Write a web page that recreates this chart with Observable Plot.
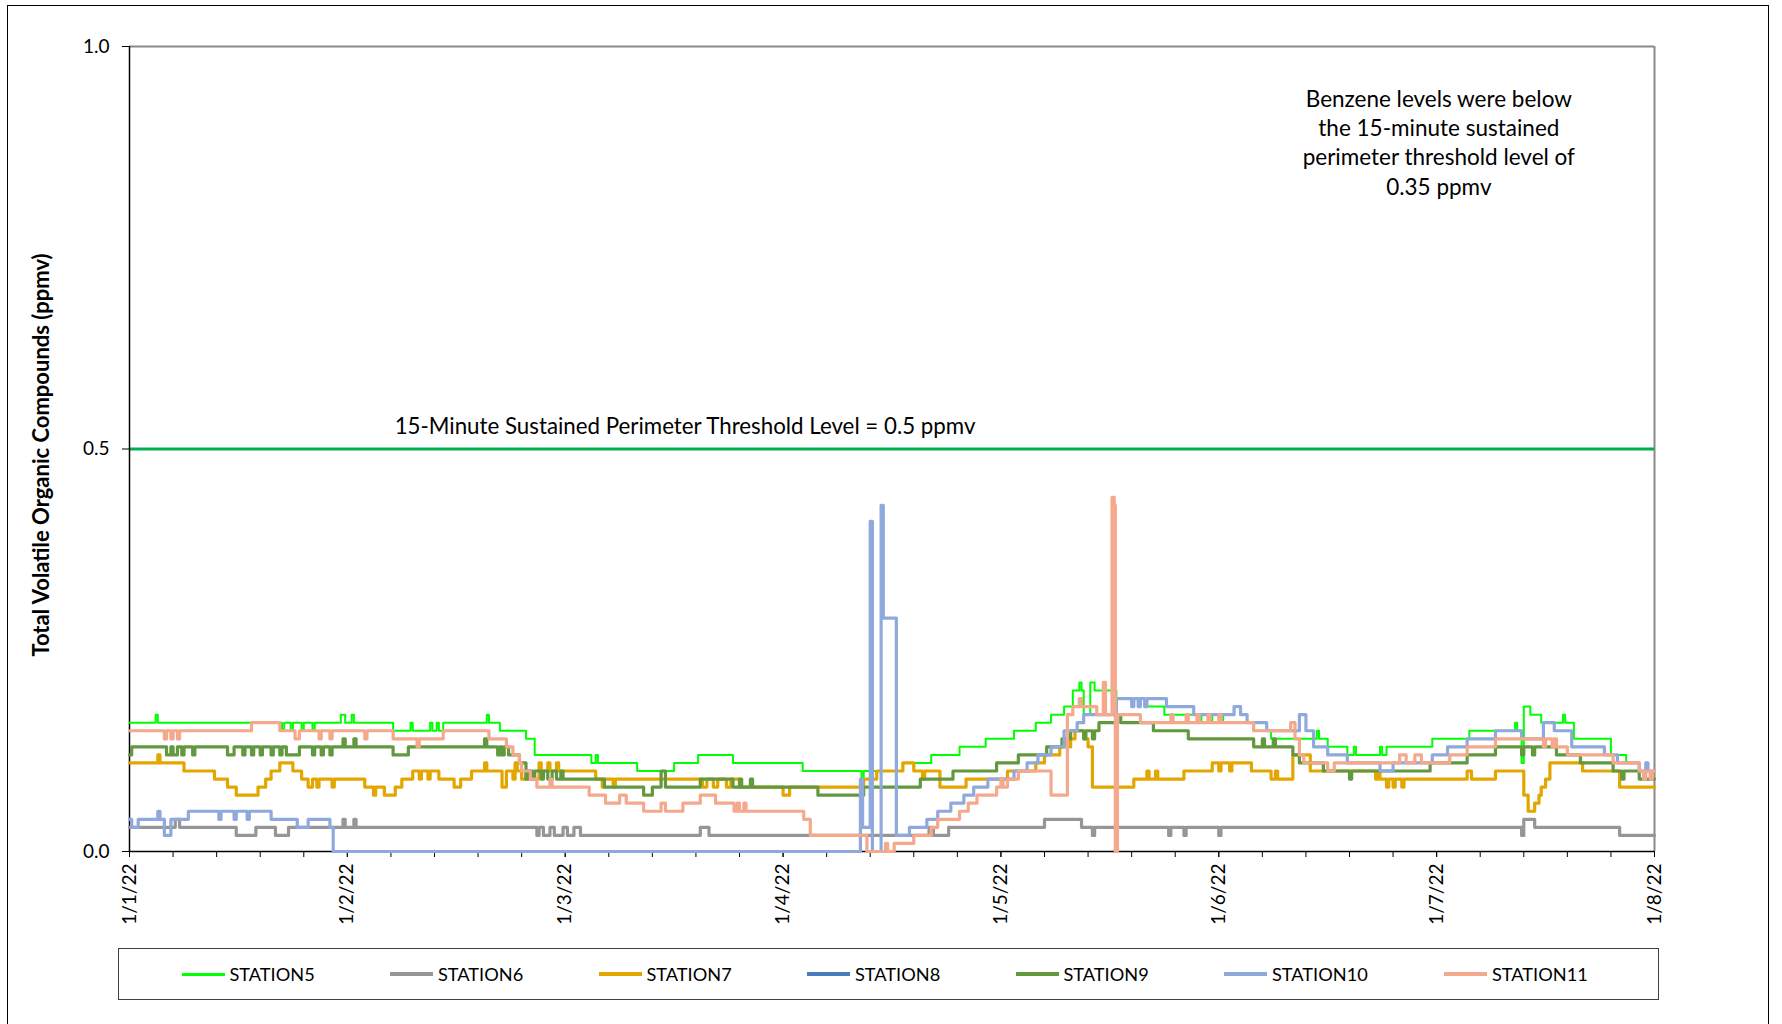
<!DOCTYPE html>
<html>
<head>
<meta charset="utf-8">
<script src="https://cdn.jsdelivr.net/npm/d3@7"></script>
<script src="https://cdn.jsdelivr.net/npm/@observablehq/plot@0.6"></script>
<style>
  html, body { margin: 0; padding: 0; background: #fff; overflow: hidden; }
  body { width: 1782px; height: 1024px; position: relative; font-family: Lato, "Open Sans", sans-serif; }
  #chart { position: absolute; left: 0; top: 0; }
  #frame { position: absolute; left: 7px; top: 5px; width: 1762px; height: 1100px; border: 1.5px solid #000; box-sizing: border-box; pointer-events: none; }
  #legend { position: absolute; left: 118px; top: 948px; width: 1541px; height: 52px; border: 1.5px solid #404040; box-sizing: border-box;
            display: flex; align-items: center; justify-content: flex-start; padding-left: 62.5px; font-size: 18.2px; color: #000; background: #fff; }
  .item { display: flex; align-items: center; white-space: nowrap; width: 208.5px; flex: none; }
  .item.wide { width: 220px; }
  .swatch { display: inline-block; width: 43px; margin-right: 5px; }
</style>
</head>
<body>
<div id="chart"></div>
<div id="legend"></div>
<div id="frame"></div>
<script>
// ---- data (day offset from 1/1/22, ppmv) ----
const stations = ["STATION5", "STATION6", "STATION7", "STATION8", "STATION9", "STATION10", "STATION11"];
const colors = ["#00FF00", "#969696", "#E3A600", "#4A7EBB", "#62993E", "#8FA9DC", "#F4A88C"];
const dayTicks = [0, 1, 2, 3, 4, 5, 6, 7];
const yTicks = [0, 0.5, 1.0];
const threshold = [0.5];
const thresholdLabel = ["15-Minute Sustained Perimeter Threshold Level = 0.5 ppmv"];
const note = ["Benzene levels were below\nthe 15-minute sustained\nperimeter threshold level of\n0.35 ppmv"];
const yTitle = ["Total Volatile Organic Compounds (ppmv)"];

const station5 = [
[0,0.16],[0.12,0.17],[0.13,0.16],
[0.70,0.15],[0.71,0.16],[0.74,0.15],[0.75,0.16],[0.79,0.15],[0.80,0.16],[0.84,0.15],[0.85,0.16],
[0.97,0.17],[0.99,0.16],[1.02,0.17],[1.03,0.16],
[1.21,0.15],[1.29,0.16],[1.30,0.15],[1.38,0.16],[1.39,0.15],[1.41,0.16],[1.42,0.15],[1.44,0.16],
[1.64,0.17],[1.65,0.16],[1.70,0.15],[1.82,0.14],[1.86,0.12],
[2.12,0.11],[2.14,0.12],[2.15,0.11],[2.33,0.10],[2.50,0.11],[2.61,0.12],[2.77,0.11],[3.09,0.10],
[3.36,0.09],[3.37,0.10],[3.55,0.11],[3.68,0.12],[3.81,0.13],[3.93,0.14],[4.06,0.15],[4.16,0.16],
[4.23,0.17],[4.29,0.18],[4.33,0.20],[4.36,0.21],[4.37,0.20],[4.38,0.17],[4.41,0.21],[4.43,0.20],
[4.53,0.19],[4.66,0.18],[4.75,0.17],[4.90,0.16],[4.92,0.17],[4.95,0.16],[4.97,0.17],[5.02,0.16],
[5.16,0.15],[5.24,0.14],[5.45,0.15],[5.46,0.14],[5.50,0.13],[5.59,0.12],[5.62,0.13],[5.63,0.12],
[5.74,0.13],[5.75,0.12],[5.77,0.13],[5.98,0.14],[6.15,0.15],[6.36,0.16],[6.37,0.15],[6.39,0.11],
[6.40,0.18],[6.43,0.17],[6.48,0.16],[6.58,0.17],[6.59,0.16],[6.63,0.14],[6.80,0.12],[6.87,0.11],
[6.93,0.10],[7,0.10]
];
const station6 = [
[0,0.03],[0.21,0.04],[0.23,0.03],[0.49,0.02],[0.58,0.03],[0.67,0.02],[0.73,0.03],[0.98,0.04],[0.99,0.03],
[1.03,0.04],[1.04,0.03],[1.87,0.02],[1.88,0.03],[1.90,0.02],[1.93,0.03],[1.95,0.02],[1.99,0.03],[2.01,0.02],
[2.04,0.03],[2.07,0.02],[2.62,0.03],[2.66,0.02],[3.67,0.03],[3.69,0.02],[3.76,0.03],[4.20,0.04],[4.37,0.03],
[4.42,0.02],[4.43,0.03],[4.77,0.02],[4.78,0.03],[4.84,0.02],[4.85,0.03],[5.00,0.02],[5.01,0.03],[6.39,0.02],
[6.40,0.04],[6.45,0.03],[6.84,0.02],[7,0.02]
];
const station7 = [
[0,0.11],[0.13,0.12],[0.14,0.11],[0.25,0.10],[0.39,0.09],[0.45,0.08],[0.49,0.07],[0.59,0.08],[0.625,0.09],
[0.65,0.10],[0.69,0.11],[0.75,0.10],[0.79,0.09],[0.82,0.08],[0.84,0.09],[0.86,0.08],[0.87,0.09],[0.93,0.08],
[0.94,0.09],[1.08,0.08],[1.12,0.07],[1.13,0.08],[1.17,0.07],[1.22,0.08],[1.25,0.09],[1.30,0.10],[1.33,0.09],
[1.34,0.10],[1.37,0.09],[1.38,0.10],[1.42,0.09],[1.49,0.08],[1.52,0.09],[1.57,0.10],[1.63,0.11],[1.64,0.10],
[1.71,0.08],[1.73,0.10],[1.76,0.09],[1.77,0.11],[1.78,0.10],[1.80,0.09],[1.82,0.10],[1.84,0.09],[1.88,0.11],
[1.89,0.10],[1.92,0.11],[1.93,0.10],[1.96,0.11],[1.97,0.10],[2.14,0.09],[2.17,0.08],[2.18,0.09],[2.22,0.08],
[2.23,0.09],[2.63,0.08],[2.65,0.09],[2.68,0.08],[2.70,0.09],[2.74,0.08],[2.76,0.09],[2.80,0.08],[3.00,0.07],
[3.03,0.08],[3.37,0.09],[3.43,0.10],[3.55,0.11],[3.60,0.10],[3.64,0.09],[3.65,0.10],[3.72,0.08],[3.84,0.09],
[4.03,0.10],[4.16,0.11],[4.20,0.12],[4.27,0.13],[4.29,0.14],[4.30,0.13],[4.32,0.14],[4.34,0.15],[4.38,0.14],
[4.40,0.13],[4.42,0.08],[4.61,0.09],[4.67,0.10],[4.68,0.09],[4.71,0.10],[4.72,0.09],[4.84,0.10],[4.97,0.11],
[5.00,0.10],[5.01,0.11],[5.05,0.10],[5.06,0.11],[5.15,0.10],[5.24,0.09],[5.26,0.10],[5.27,0.09],[5.34,0.12],
[5.42,0.10],[5.72,0.09],[5.73,0.10],[5.74,0.09],[5.77,0.08],[5.78,0.09],[5.80,0.08],[5.81,0.09],[5.84,0.08],
[5.85,0.09],[6.14,0.10],[6.16,0.09],[6.27,0.10],[6.40,0.07],[6.42,0.05],[6.45,0.06],[6.47,0.07],[6.48,0.08],
[6.50,0.09],[6.52,0.11],[6.67,0.10],[6.84,0.08],[7,0.08]
];
const station8 = [];
const station9 = [
[0,0.12],[0.01,0.13],[0.17,0.12],[0.19,0.13],[0.20,0.12],[0.22,0.13],[0.24,0.12],[0.25,0.13],[0.29,0.12],
[0.30,0.13],[0.45,0.12],[0.48,0.13],[0.52,0.12],[0.53,0.13],[0.56,0.12],[0.57,0.13],[0.60,0.12],[0.61,0.13],
[0.65,0.12],[0.66,0.13],[0.69,0.12],[0.70,0.13],[0.72,0.12],[0.78,0.13],[0.84,0.12],[0.85,0.13],[0.88,0.12],
[0.89,0.13],[0.92,0.12],[0.93,0.13],[0.98,0.14],[0.99,0.13],[1.03,0.14],[1.04,0.13],[1.21,0.12],[1.28,0.13],
[1.63,0.14],[1.64,0.13],[1.69,0.12],[1.70,0.13],[1.71,0.12],[1.72,0.13],[1.74,0.12],[1.79,0.11],[1.82,0.09],
[1.83,0.10],[1.85,0.09],[1.86,0.10],[1.89,0.09],[1.90,0.10],[1.92,0.09],[1.94,0.10],[1.96,0.09],[1.98,0.10],
[1.99,0.09],[2.18,0.08],[2.36,0.07],[2.40,0.08],[2.44,0.10],[2.46,0.08],[2.62,0.09],[2.77,0.08],[2.80,0.09],
[2.81,0.08],[2.85,0.09],[2.86,0.08],[3.16,0.07],[3.37,0.08],[3.63,0.09],[3.78,0.10],[3.98,0.11],[4.08,0.12],
[4.21,0.13],[4.28,0.14],[4.32,0.15],[4.38,0.14],[4.39,0.15],[4.42,0.14],[4.43,0.15],[4.45,0.16],[4.53,0.17],
[4.55,0.16],[4.70,0.15],[4.86,0.14],[5.16,0.13],[5.20,0.14],[5.21,0.13],[5.25,0.14],[5.26,0.13],[5.34,0.12],
[5.37,0.11],[5.48,0.10],[5.60,0.09],[5.61,0.10],[5.97,0.11],[6.14,0.12],[6.27,0.13],[6.39,0.12],[6.40,0.13],
[6.44,0.12],[6.45,0.13],[6.55,0.12],[6.66,0.11],[6.81,0.10],[6.85,0.09],[6.86,0.10],[6.93,0.09],[7,0.09]
];
const station10 = [
[0,0.04],[0.01,0.03],[0.04,0.04],[0.13,0.05],[0.14,0.04],[0.16,0.02],[0.19,0.04],[0.27,0.05],[0.41,0.04],
[0.42,0.05],[0.48,0.04],[0.49,0.05],[0.54,0.04],[0.55,0.05],[0.65,0.04],[0.77,0.03],[0.82,0.04],[0.92,0.03],
[0.935,0],[3.355,0.09],[3.365,0.03],[3.40,0.41],[3.41,0],[3.45,0.43],[3.46,0.29],[3.52,0.02],[3.58,0.03],
[3.66,0.04],[3.71,0.05],[3.77,0.06],[3.83,0.07],[3.875,0.08],[3.94,0.09],[4.06,0.10],[4.12,0.11],[4.17,0.12],
[4.23,0.13],[4.29,0.15],[4.35,0.16],[4.38,0.17],[4.53,0.19],[4.60,0.18],[4.61,0.19],[4.63,0.18],[4.64,0.19],
[4.66,0.18],[4.67,0.19],[4.76,0.18],[4.885,0.17],[5.07,0.18],[5.10,0.17],[5.13,0.16],[5.22,0.15],[5.37,0.17],
[5.40,0.15],[5.435,0.13],[5.50,0.12],[5.59,0.11],[5.74,0.10],[5.80,0.11],[5.98,0.12],[6.05,0.13],[6.14,0.14],
[6.27,0.15],[6.39,0.14],[6.49,0.16],[6.54,0.15],[6.62,0.13],[6.77,0.12],[6.83,0.11],[6.93,0.10],[6.96,0.11],
[6.97,0.10],[7,0.10]
];
const station11 = [
[0,0.15],[0.16,0.14],[0.17,0.15],[0.19,0.14],[0.20,0.15],[0.22,0.14],[0.23,0.15],[0.56,0.16],[0.69,0.15],
[0.76,0.14],[0.78,0.15],[0.87,0.14],[0.88,0.15],[0.92,0.14],[0.93,0.15],[1.08,0.14],[1.09,0.15],[1.21,0.14],
[1.32,0.13],[1.33,0.14],[1.44,0.15],[1.65,0.14],[1.73,0.13],[1.76,0.12],[1.79,0.11],[1.80,0.10],[1.84,0.09],
[1.87,0.08],[1.93,0.09],[1.94,0.08],[2.11,0.07],[2.185,0.06],[2.25,0.07],[2.28,0.06],[2.36,0.05],[2.44,0.06],
[2.46,0.05],[2.54,0.06],[2.62,0.07],[2.69,0.06],[2.775,0.05],[2.79,0.06],[2.80,0.05],[2.82,0.06],[2.83,0.05],
[3.095,0.04],[3.125,0.02],[3.385,0],[3.47,0.01],[3.48,0],[3.51,0.01],[3.60,0.02],[3.68,0.03],[3.71,0.04],
[3.81,0.05],[3.85,0.06],[3.89,0.07],[3.98,0.08],[4.00,0.09],[4.01,0.08],[4.03,0.09],[4.08,0.10],[4.23,0.07],
[4.305,0.17],[4.33,0.18],[4.36,0.19],[4.37,0.18],[4.44,0.17],[4.47,0.21],[4.48,0.17],[4.51,0.44],[4.52,0.43],
[4.525,0],[4.535,0.17],[4.64,0.16],[4.78,0.17],[4.79,0.16],[4.85,0.17],[4.86,0.16],[4.90,0.17],[4.91,0.16],
[4.95,0.17],[4.96,0.16],[5.00,0.17],[5.01,0.16],[5.16,0.15],[5.33,0.16],[5.35,0.14],[5.37,0.12],[5.39,0.11],
[5.50,0.10],[5.53,0.11],[5.83,0.12],[5.86,0.11],[5.90,0.12],[5.93,0.11],[6.06,0.12],[6.14,0.13],[6.27,0.14],
[6.49,0.13],[6.50,0.14],[6.53,0.13],[6.54,0.14],[6.55,0.13],[6.60,0.12],[6.81,0.11],[6.93,0.10],[6.95,0.09],
[6.96,0.10],[6.98,0.09],[6.99,0.10],[7,0.10]
];
const seriesData = [station5, station6, station7, station8, station9, station10, station11];
const lineWidths = [2, 3.2, 3.2, 3.2, 3.2, 3.2, 3.2];

// ---- build ----
const T0 = Date.UTC(2022, 0, 1);
const toDate = d => new Date(T0 + d * 86400000);
const minorTicks = d3.range(0, 35).map(i => toDate(i / 5)).concat([toDate(7)]);
const fmtDate = d => `${d.getUTCMonth() + 1}/${d.getUTCDate()}/${String(d.getUTCFullYear()).slice(2)}`;

const lineMarks = seriesData.map((arr, i) =>
  Plot.line(arr.map(([d, v]) => ({date: toDate(d), value: v})), {
    x: "date", y: "value", stroke: colors[i], strokeWidth: lineWidths[i], curve: "step-after"
  })
);

const chart = Plot.plot({
  width: 1782,
  height: 940,
  marginLeft: 129,
  marginRight: 128,
  marginTop: 46,
  marginBottom: 89,
  style: {fontFamily: "Lato, 'Open Sans', sans-serif", fontSize: "19px", color: "#000", background: "transparent", overflow: "visible"},
  x: {type: "utc", domain: [toDate(0), toDate(7)]},
  y: {domain: [0, 1]},
  marks: [
    Plot.ruleY([1], {stroke: "#8a8a8a", strokeWidth: 2}),
    Plot.ruleX([toDate(7)], {stroke: "#8a8a8a", strokeWidth: 2}),
    Plot.ruleY(threshold, {stroke: "#00B050", strokeWidth: 3}),
    Plot.axisY({ticks: yTicks, tickFormat: d3.format(".1f"), tickSize: 7, tickPadding: 13, label: null, fontSize: 19}),
    Plot.axisX({ticks: minorTicks, tickFormat: () => "", tickSize: 6, label: null}),
    Plot.axisX({ticks: dayTicks.map(toDate), tickFormat: fmtDate, tickRotate: -90, tickSize: 6, tickPadding: 6, label: null, fontSize: 19}),
    Plot.ruleX([toDate(0)], {stroke: "#000", strokeWidth: 1.5}),
    Plot.ruleY([0], {stroke: "#000", strokeWidth: 1.5}),
    ...lineMarks,
    Plot.text(thresholdLabel, {text: d => d, x: toDate(2.55), y: threshold[0], dy: -22, fontSize: 22.3, textAnchor: "middle"}),
    Plot.text(note, {text: d => d, x: toDate(6.01), y: 0.882, lineAnchor: "middle", lineHeight: 1.3, fontSize: 22.5, textAnchor: "middle"}),
    Plot.text(yTitle, {text: d => d, frameAnchor: "left", dx: -88, dy: 6, rotate: -90, fontWeight: "bold", fontSize: 22, textAnchor: "middle"})
  ]
});
document.getElementById("chart").appendChild(chart);

// ---- legend ----
const legend = document.getElementById("legend");
stations.forEach((s, i) => {
  const item = document.createElement("div");
  item.className = s.length > 8 ? "item wide" : "item";
  const sw = document.createElement("span");
  sw.className = "swatch";
  sw.style.borderTop = `${i === 0 ? 3 : 4}px solid ${colors[i]}`;
  const label = document.createElement("span");
  label.textContent = s;
  item.appendChild(sw);
  item.appendChild(label);
  legend.appendChild(item);
});
</script>
</body>
</html>
